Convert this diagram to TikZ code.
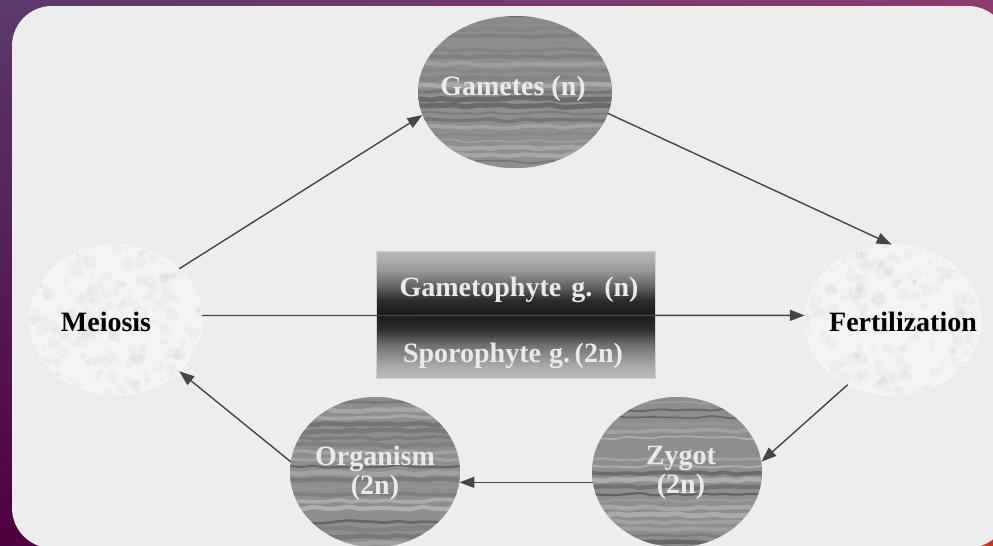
\documentclass[tikz,border=0pt]{standalone}
\usepackage{fontspec}
\setmainfont{Liberation Serif}
\usetikzlibrary{shapes.geometric,arrows.meta,decorations.pathmorphing,shadings}
\definecolor{bgUL}{HTML}{5B3A6C}
\definecolor{bgUR}{HTML}{8F3A6E}
\definecolor{bgLL}{HTML}{4E003E}
\definecolor{bgLR}{HTML}{C0392B}
\definecolor{panelc}{HTML}{EDEDED}
\definecolor{woodc}{HTML}{8E8E8E}
\definecolor{lightc}{HTML}{F4F4F4}
\definecolor{wtext}{HTML}{EAEAEA}
\definecolor{arrc}{HTML}{454545}
\definecolor{sA}{HTML}{BCBCBC}
\definecolor{sB}{HTML}{A8A8A8}
\definecolor{sC}{HTML}{707070}
\definecolor{sD}{HTML}{303030}
\definecolor{sE}{HTML}{1A1A1A}
\definecolor{sF}{HTML}{2C2C2C}
\definecolor{sG}{HTML}{555555}
\definecolor{sH}{HTML}{9A9A9A}
\definecolor{sI}{HTML}{BABABA}
\pgfdeclareverticalshading{boxshade}{100bp}{color(0bp)=(sA); color(25bp)=(sA); color(30bp)=(sB); color(38bp)=(sC); color(44bp)=(sD); color(50bp)=(sE); color(55.7bp)=(sF); color(59.6bp)=(sG); color(67.5bp)=(sH); color(75bp)=(sI); color(100bp)=(sI)}
\newcommand\woodtex{%
  \foreach \i in {0,...,22}{%
    \pgfmathsetmacro\sh{int(28+38*rnd)}%
    \pgfmathsetmacro\lw{1.5+3.5*rnd}%
    \draw[black!\sh!white, line width=\lw pt, opacity=0.8, decorate,
      decoration={random steps, segment length=12pt, amplitude=1.6pt}, rounded corners=3pt]
      ([yshift=-\i*7pt+1pt]path picture bounding box.north west) --
      ([yshift=-\i*7pt+1pt]path picture bounding box.north east);
  }%
}
\newcommand\mottletex{%
  \foreach \k in {1,...,220}{%
    \pgfmathsetmacro\px{rand*92}%
    \pgfmathsetmacro\py{rand*80}%
    \pgfmathsetmacro\rr{2+5*rnd}%
    \fill[black, opacity=0.025] ([shift={(\px pt,\py pt)}]path picture bounding box.center) circle[radius=\rr pt];
  }%
}
\begin{document}
\begin{tikzpicture}[x=1pt,y=-1pt,
  woodell/.style={ellipse, inner sep=0pt, fill=woodc, path picture={\woodtex}},
  lightell/.style={ellipse, inner sep=0pt, fill=lightc, draw=white, dashed, line width=0.8pt, path picture={\mottletex}},
  wlbl/.style={text=wtext, font=\fontsize{28}{29}\selectfont\bfseries, align=center, inner sep=0pt},
  blbl/.style={text=black, font=\fontsize{28}{29}\selectfont\bfseries, align=center, inner sep=0pt},
  boxst/.style={rectangle, inner sep=0pt, shading=boxshade, draw=black!18, line width=0.6pt},
  arr/.style={draw=arrc, line width=1.4pt, -{Triangle[length=15pt,width=11pt]}}]
\pgfmathsetseed{4217}
\useasboundingbox (0,0) rectangle (993,546);
\shade[upper left=bgUL, upper right=bgUR, lower left=bgLL, lower right=bgLR] (0,0) rectangle (993,546);
\fill[panelc, rounded corners=40pt] (12,6) rectangle (1008,548);
% ellipses
\node[woodell, minimum width=194pt, minimum height=152pt] (gam) at (515,92) {};
\node[lightell, minimum width=172pt, minimum height=150pt] (mei) at (116,320) {};
\node[lightell, minimum width=176pt, minimum height=150pt] (fer) at (893,320) {};
\node[woodell, minimum width=170pt, minimum height=150pt] (org) at (375,472) {};
\node[woodell, minimum width=170pt, minimum height=150pt] (zyg) at (677,472) {};
% centre box
\node[boxst, minimum width=279pt, minimum height=127pt] (box) at (515.5,314.5) {};
% labels
\node[wlbl] (gamT) at (513,89) {Gametes (n)};
\node[blbl] (meiT) at (106,322) {Meiosis};
\node[blbl] (ferT) at (903,322) {Fertilization};
\node[wlbl] (orgT) at (375,473) {Organism\\(2n)};
\node[wlbl] (zygT) at (681,473) {Zygot\\(2n)};
\node[wlbl] (gtT) at (519,290) {Gametophyte\hspace{10pt}g.\hspace{12pt}(n)};
\node[wlbl] (spT) at (513,356) {Sporophyte\hspace{8pt}g.\,(2n)};
% connectors
\draw[arr] (mei.39) -- (gam.194);
\draw[arr] (gam.-13) -- (fer.91);
\draw[arr] (mei.3) -- (fer.177);
\draw[arr] (fer.235) -- (zyg.7);
\draw[arr] (zyg.187) -- (org.-7);
\draw[arr] (org.173) -- (mei.-39);
\end{tikzpicture}
\end{document}
